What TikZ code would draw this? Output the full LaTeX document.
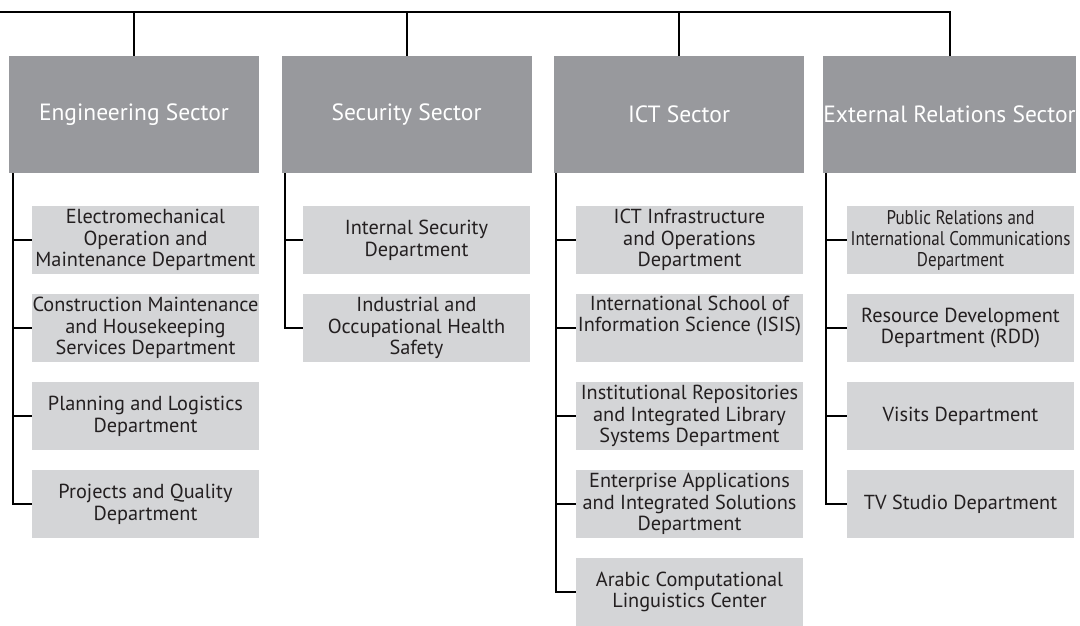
\documentclass[tikz,border=0pt]{standalone}
\usepackage{fontspec}
\setmainfont{PT Sans}
\newfontfamily\condfont[FakeStretch=0.86]{PT Sans}
\definecolor{secgray}{HTML}{98999D}
\definecolor{deptgray}{HTML}{D4D5D7}
\definecolor{ink}{HTML}{231F20}
\tikzset{
 sector/.style={fill=secgray, draw=none, minimum width=250pt, minimum height=117pt, inner sep=0pt, text=white, font=\fontsize{23.5}{26}\selectfont, align=center},
 dept/.style={fill=deptgray, draw=none, minimum width=227pt, minimum height=68pt, inner sep=0pt, align=center, text=ink, font=\fontsize{20.3}{21.7}\selectfont},
 condept/.style={dept, font=\condfont\fontsize{19.8}{21}\selectfont},
 link/.style={line width=2pt, draw=black},
}
\begin{document}
\begin{tikzpicture}[x=1pt,y=-1pt]
\useasboundingbox (0,0) rectangle (1080,625);
% sectors
\node[sector] (eng) at (134,114.5) {Engineering Sector};
\node[sector] (sec) at (406.5,114.5) {Security Sector};
\node[sector] (ict) at (679,114.5) {ICT Sector};
\node[sector] (ext) at (949.5,114.5) {External Relations Sector};
% engineering departments
\node[dept] (e1) at (145.5,240) {Electromechanical\\Operation and\\Maintenance Department};
\node[dept] (e2) at (145.5,328) {Construction Maintenance\\and Housekeeping\\Services Department};
\node[dept] (e3) at (145.5,416) {Planning and Logistics\\Department};
\node[dept] (e4) at (145.5,504) {Projects and Quality\\Department};
% security departments
\node[dept] (s1) at (416.5,240) {Internal Security\\Department};
\node[dept] (s2) at (416.5,328) {Industrial and\\Occupational Health\\Safety};
% ICT departments
\node[dept] (i1) at (689.5,240) {ICT Infrastructure\\and Operations\\Department};
\node[dept] (i2) at (689.5,328) {International School of\\Information Science (ISIS)\\\strut};
\node[dept] (i3) at (689.5,416) {Institutional Repositories\\and Integrated Library\\Systems Department};
\node[dept] (i4) at (689.5,504) {Enterprise Applications\\and Integrated Solutions\\Department};
\node[dept] (i5) at (689.5,592) {Arabic Computational\\Linguistics Center};
% external relations departments
\node[condept] (x1) at (960.5,240) {Public Relations and\\International Communications\\Department};
\node[dept] (x2) at (960.5,328) {Resource Development\\Department (RDD)};
\node[dept] (x3) at (960.5,416) {Visits Department};
\node[dept] (x4) at (960.5,504) {TV Studio Department};
% top bus
\coordinate (busL) at (0,12);
\draw[link] (busL) -| (ext.north);
\draw[link] (eng.north) -- (eng.north |- busL);
\draw[link] (sec.north) -- (sec.north |- busL);
\draw[link] (ict.north) -- (ict.north |- busL);
% branch spines
\coordinate (engv) at ([xshift=4pt]eng.south west);
\coordinate (secv) at ([xshift=4pt]sec.south west);
\coordinate (ictv) at ([xshift=2pt]ict.south west);
\coordinate (extv) at ([xshift=3pt]ext.south west);
\draw[link] (engv) |- (e4.west);
\draw[link] (e1.west) -- (e1.west -| engv);
\draw[link] (e2.west) -- (e2.west -| engv);
\draw[link] (e3.west) -- (e3.west -| engv);
\draw[link] (secv) |- (s2.west);
\draw[link] (s1.west) -- (s1.west -| secv);
\draw[link] (ictv) |- (i5.west);
\draw[link] (i1.west) -- (i1.west -| ictv);
\draw[link] (i2.west) -- (i2.west -| ictv);
\draw[link] (i3.west) -- (i3.west -| ictv);
\draw[link] (i4.west) -- (i4.west -| ictv);
\draw[link] (extv) |- (x4.west);
\draw[link] (x1.west) -- (x1.west -| extv);
\draw[link] (x2.west) -- (x2.west -| extv);
\draw[link] (x3.west) -- (x3.west -| extv);
\end{tikzpicture}
\end{document}
